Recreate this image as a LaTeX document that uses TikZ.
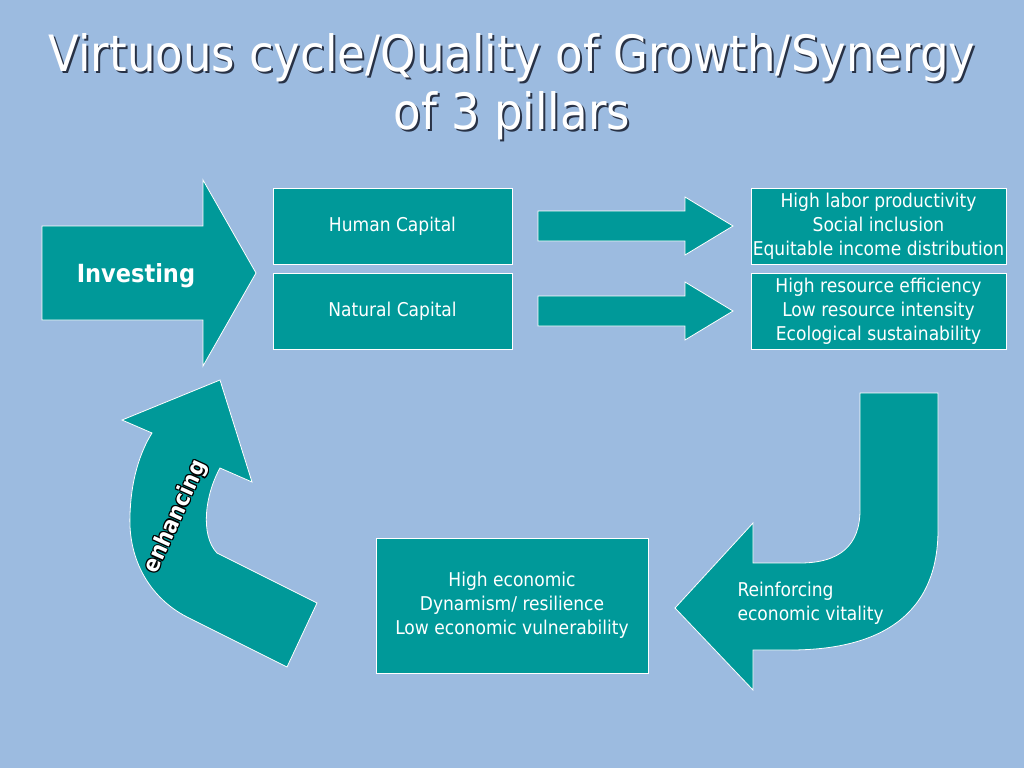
\documentclass[tikz,border=0pt]{standalone}
\usepackage{fontspec}
\setmainfont{DejaVu Sans Condensed}
\usetikzlibrary{positioning}
\definecolor{fond}{RGB}{156,187,224}
\definecolor{sarcelle}{RGB}{0,153,153}
\definecolor{ombre}{RGB}{40,50,70}
\begin{document}
\begin{tikzpicture}[x=1pt,y=-1pt]
            \tikzstyle{boite}=[draw=white,fill=sarcelle,line width=0.8pt,text=white,align=center,inner sep=0pt,font=\fontsize{19}{24}\selectfont]
            \tikzset{fleche/.style = {draw=white,fill=sarcelle,line width=0.8pt}}
            \tikzset{texte/.style = {text=white,font=\fontsize{19}{24}\selectfont}}
            \fill[fond] (0,0) rectangle (1024,768);
            % titre avec ombre
            \node[text=ombre,align=center,font=\fontsize{50}{58}\selectfont] (ombretitre) at (514,89) {Virtuous cycle/Quality of Growth/Synergy\\of 3 pillars};
            \node[text=white,align=center,font=\fontsize{50}{58}\selectfont] (titre) at (512,87) {Virtuous cycle/Quality of Growth/Synergy\\of 3 pillars};
            % fleches
            \draw[fleche] (42,226) -- (203,226) -- (203,180) -- (256,273) -- (203,366) -- (203,320) -- (42,320) -- cycle;
            \foreach \y in {226,311}
                \draw[fleche] (538,\y-15) -- (685,\y-15) -- (685,\y-29) -- (733,\y) -- (685,\y+29) -- (685,\y+15) -- (538,\y+15) -- cycle;
            \draw[fleche] (860,393) -- (938,393) -- (938,530) .. controls (938,615) and (880,650) .. (790,650) -- (753,650) -- (753,690) -- (675,608) -- (753,523) -- (753,563) -- (800,563) .. controls (840,563) and (860,545) .. (860,510) -- cycle;
            \draw[fleche] (287,667) -- (187,617) .. controls (150,598) and (128,560) .. (130,515) .. controls (131,480) and (140,452) .. (152,433) -- (122,420) -- (220,380) -- (252,482) -- (220,468) .. controls (205,495) and (200,535) .. (217,553) -- (317,603) -- cycle;
            % boites
            \node[boite,minimum width=239,minimum height=76] (humain) at (392.5,226) {Human Capital};
            \node[boite,minimum width=239,minimum height=76] (naturel) at (392.5,311) {Natural Capital};
            \node[boite,minimum width=255,minimum height=76] (social) at (878.5,226) {High labor productivity\\Social inclusion\\Equitable income distribution};
            \node[boite,minimum width=255,minimum height=76] (ecolo) at (878.5,311) {High resource efficiency\\Low resource intensity\\Ecological sustainability};
            \node[boite,minimum width=272,minimum height=135] (econ) at (512,605.5) {High economic\\Dynamism/ resilience\\Low economic vulnerability};
            % textes des fleches
            \node[text=white,font=\fontsize{25}{28}\bfseries] (investir) at (136,276) {Investing};
            \node[texte,align=left,anchor=west] (renforcer) at (734,603) {Reinforcing\\economic vitality};
            \foreach \dx/\dy in {-1.2/0,1.2/0,0/-1.2,0/1.2,-0.9/-0.9,0.9/0.9,-0.9/0.9,0.9/-0.9}
                \node[text=black,font=\fontsize{23}{26}\bfseries,rotate=65.7] at (176+\dx,517+\dy) {enhancing};
            \node[text=white,font=\fontsize{23}{26}\bfseries,rotate=65.7] (ameliorer) at (176,517) {enhancing};
\end{tikzpicture}
\end{document}
